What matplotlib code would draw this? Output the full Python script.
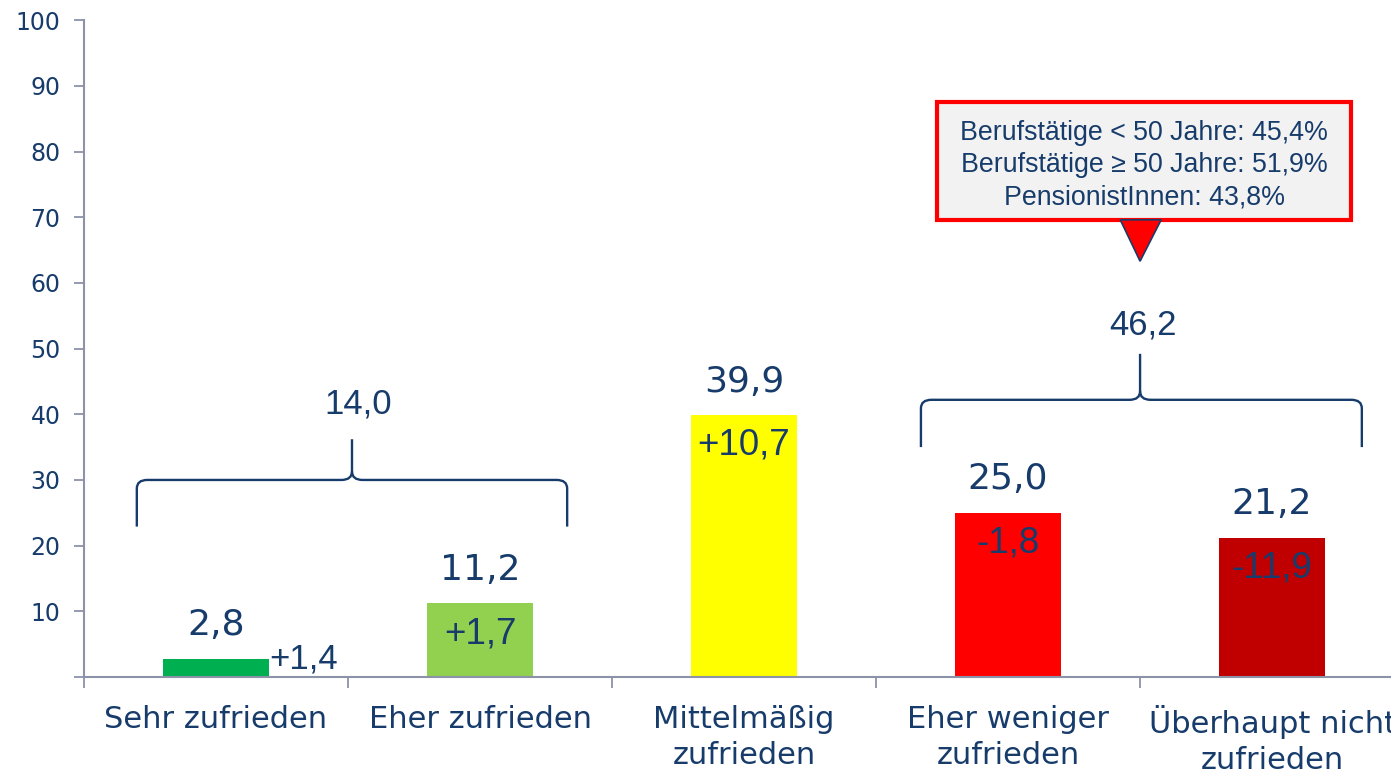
import numpy as np
import matplotlib.pyplot as plt
from matplotlib.path import Path
from matplotlib.patches import PathPatch, FancyBboxPatch, Polygon

# Zufriedenheit, Anteile in % und Veränderung zur Vorerhebung
categories = ["Sehr zufrieden", "Eher zufrieden", "Mittelmäßig\nzufrieden",
              "Eher weniger\nzufrieden", "Überhaupt nicht\nzufrieden"]
values = [2.8, 11.2, 39.9, 25.0, 21.2]
changes = [1.4, 1.7, 10.7, -1.8, -11.9]
bar_colors = ["#00B050", "#92D050", "#FFFF00", "#FF0000", "#C00000"]
callout_lines = ["Berufstätige < 50 Jahre: 45,4%",
                 "Berufstätige ≥ 50 Jahre: 51,9%",
                 "PensionistInnen: 43,8%"]

NAVY = "#173C6B"
AXIS_GREY = "#8C93A8"
ARIAL = ["Liberation Sans", "DejaVu Sans"]


def de_fmt(v, sign=False):
    s = f"{v:+.1f}" if sign else f"{v:.1f}"
    return s.replace(".", ",")


def brace(ax, x0, x1, xm, ybot, yh, ytop, rx=0.04, ry=1.3):
    verts = [(x0, ybot), (x0, yh - ry), (x0, yh), (x0 + rx, yh),
             (xm - rx, yh), (xm, yh), (xm, yh + ry), (xm, ytop),
             (xm, yh + ry), (xm, yh), (xm + rx, yh),
             (x1 - rx, yh), (x1, yh), (x1, yh - ry), (x1, ybot)]
    codes = [Path.MOVETO, Path.LINETO, Path.CURVE3, Path.CURVE3,
             Path.LINETO, Path.CURVE3, Path.CURVE3, Path.LINETO,
             Path.MOVETO, Path.CURVE3, Path.CURVE3,
             Path.LINETO, Path.CURVE3, Path.CURVE3, Path.LINETO]
    ax.add_patch(PathPatch(Path(verts, codes), fill=False, edgecolor=NAVY,
                           linewidth=1.7, capstyle="butt"))


fig = plt.figure(figsize=(13.91, 7.71), dpi=100)
ax = fig.add_axes([0.0604, 0.1219, 0.949, 0.852])

x = np.arange(len(values))
ax.bar(x, values, width=0.4, color=bar_colors, zorder=2)

ax.set_xlim(-0.5, 4.5)
ax.set_ylim(0, 100)

for side in ("top", "right"):
    ax.spines[side].set_visible(False)
for side in ("left", "bottom"):
    ax.spines[side].set_color(AXIS_GREY)
    ax.spines[side].set_linewidth(1.5)

ax.set_yticks(np.arange(0, 101, 10))
ax.set_yticklabels([""] + [str(v) for v in range(10, 101, 10)])
ax.tick_params(axis="y", direction="out", length=7, width=1.3,
               color=AXIS_GREY, labelcolor=NAVY, labelsize=17, pad=10)

ax.set_xticks(x)
ax.set_xticklabels(categories, fontsize=22, color=NAVY, linespacing=1.3,
                   va="top")
ax.set_xticks(np.arange(-0.5, 5.0, 1.0), minor=True)
ax.tick_params(axis="x", which="major", length=0, pad=20)
ax.tick_params(axis="x", which="minor", direction="out", length=8,
               width=1.3, color=AXIS_GREY)

# Prozentwerte über den Balken, Veränderungen in den Balken
for xi, v, c in zip(x, values, changes):
    ax.annotate(de_fmt(v), (xi, v), xytext=(0, 24), textcoords="offset points",
                ha="center", va="center", fontsize=26, color=NAVY)
    if v < 5:
        ax.annotate(de_fmt(c, sign=True), (xi + 0.2, v), xytext=(0, 0),
                    textcoords="offset points", ha="left", va="center",
                    fontsize=25, color=NAVY, family=ARIAL)
    else:
        ax.annotate(de_fmt(c, sign=True), (xi, v), xytext=(0, -22),
                    textcoords="offset points", ha="center", va="center",
                    fontsize=26.5, color=NAVY, family=ARIAL)

# Klammern für zusammengefasste Gruppen
pos_total = values[0] + values[1]
neg_total = values[3] + values[4]
brace(ax, -0.30, 1.33, 0.515, 22.9, 30.0, 36.2)
ax.text(0.54, 41.5, de_fmt(pos_total), ha="center", va="center",
        fontsize=25, color=NAVY, family=ARIAL)
brace(ax, 2.67, 4.34, 3.5, 35.0, 42.2, 49.2)
ax.text(3.51, 53.6, de_fmt(neg_total), ha="center", va="center",
        fontsize=25, color=NAVY, family=ARIAL)

# Infobox mit Pfeil
box = FancyBboxPatch((2.73, 69.6), 1.57, 17.9, boxstyle="square,pad=0",
                     facecolor="#F2F2F2", edgecolor="#FF0000", linewidth=3,
                     zorder=4)
ax.add_patch(box)
ax.text(3.515, 77.9, "\n".join(callout_lines), ha="center", va="center",
        fontsize=19.3, color=NAVY, family=ARIAL, linespacing=1.3, zorder=5)
ax.add_patch(Polygon([(3.425, 69.6), (3.58, 69.6), (3.5, 63.3)],
                     closed=True, facecolor="#FF0000", edgecolor=NAVY,
                     linewidth=1.2, zorder=5))

fig.savefig("out.png", dpi=100)
